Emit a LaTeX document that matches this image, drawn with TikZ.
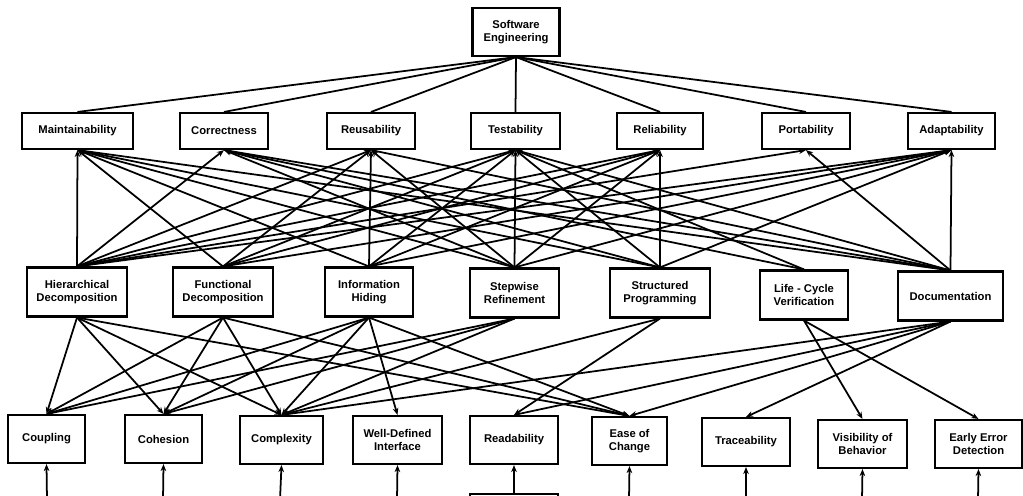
\documentclass[tikz,border=0pt]{standalone}
\usepackage{fontspec}
\setmainfont{Liberation Sans}
\usetikzlibrary{arrows.meta}
\begin{document}
\begin{tikzpicture}[x=0.25mm, y=-0.25mm,
        box/.style={draw, line width=1.5pt, align=center, inner sep=1pt,
            font=\fontsize{8}{9.5}\selectfont\bfseries},
        goal/.style={box, minimum height=9mm},
        principle/.style={box, minimum height=12.25mm},
        attribute/.style={box, minimum height=12mm},
        link/.style={line width=1.25pt, -{Stealth[length=5pt, width=4pt]}},
        tie/.style={line width=1.25pt}]
    \useasboundingbox (0, 0) rectangle (1023, 496);
    \clip (0, 0) rectangle (1023, 496);
    \node[box, minimum width=21.75mm, minimum height=12mm] (se) at (516, 32) {Software\\Engineering};

    \node[goal, minimum width=27.75mm] (main) at (77.5, 131) {Maintainability};
    \node[goal, minimum width=22mm] (corr) at (224, 131) {Correctness};
    \node[goal, minimum width=22mm] (reuse) at (371, 131) {Reusability};
    \node[goal, minimum width=22.25mm] (test) at (515.5, 131) {Testability};
    \node[goal, minimum width=21.5mm] (rel) at (660, 131) {Reliability};
    \node[goal, minimum width=22mm] (port) at (806, 131) {Portability};
    \node[goal, minimum width=21.75mm] (adapt) at (951.5, 131) {Adaptability};

    \node[principle, minimum width=25mm] (hier) at (77, 292) {Hierarchical\\Decomposition};
    \node[principle, minimum width=25mm] (func) at (223, 292) {Functional\\Decomposition};
    \node[principle, minimum width=22mm] (hide) at (369, 292) {Information\\Hiding};
    \node[principle, minimum width=22.25mm] (stepref) at (514.5, 293) {Stepwise\\Refinement};
    \node[principle, minimum width=25mm] (struct) at (660, 293) {Structured\\Programming};
    \node[principle, minimum width=22mm] (lcv) at (804, 295) {Life - Cycle\\Verification};
    \node[principle, minimum width=26.25mm] (docu) at (950.5, 296) {Documentation};

    \node[attribute, minimum width=19.25mm] (coup) at (46.5, 439) {Coupling};
    \node[attribute, minimum width=19.25mm] (cohe) at (163.5, 439) {Cohesion};
    \node[attribute, minimum width=20.75mm] (cplx) at (281.5, 440) {Complexity};
    \node[attribute, minimum width=22.25mm] (wdi) at (397.5, 440) {Well-Defined\\Interface};
    \node[attribute, minimum width=22mm] (read) at (514, 440) {Readability};
    \node[attribute, minimum width=18.75mm] (ease) at (629.5, 441) {Ease of\\Change};
    \node[attribute, minimum width=22mm] (trace) at (746, 442) {Traceability};
    \node[attribute, minimum width=22.25mm] (vis) at (862.5, 444) {Visibility of\\Behavior};
    \node[attribute, minimum width=21.75mm] (early) at (978.5, 444) {Early Error\\Detection};
    \node[attribute, minimum width=22mm] (below) at (514, 518) {};

    \foreach \g in {main, corr, reuse, test, rel, port, adapt}
        \draw[tie] (se.south) -- (\g.north);

    \foreach \p/\g in {hier/main, hier/corr, hier/reuse, hier/test, hier/rel, hier/port, hier/adapt,
            func/main, func/reuse, func/test, func/rel, func/adapt,
            hide/main, hide/reuse, hide/test, hide/rel, hide/adapt,
            stepref/main, stepref/corr, stepref/reuse, stepref/test, stepref/rel, stepref/adapt,
            struct/main, struct/corr, struct/test, struct/rel, struct/adapt,
            lcv/corr, lcv/test,
            docu/main, docu/corr, docu/reuse, docu/test, docu/port, docu/adapt}
        \draw[link] (\p.north) -- (\g.south);

    \foreach \p/\a in {hier/coup, hier/cohe, hier/cplx, hier/ease,
            func/coup, func/cohe, func/cplx, func/ease,
            hide/coup, hide/cohe, hide/cplx, hide/wdi, hide/ease,
            stepref/coup, stepref/cohe, stepref/cplx,
            struct/cplx, struct/read,
            lcv/vis, lcv/early,
            docu/cplx, docu/read, docu/ease, docu/trace}
        \draw[link] (\p.south) -- (\a.north);

    \foreach \a/\x in {coup/47, cohe/163, cplx/280, wdi/397, ease/629, trace/746, vis/862, early/978} {
        \coordinate (in-\a) at (\x, 500);
        \draw[link] (in-\a) -- (\a.south);
    }
    \draw[link] (below.north) -- (read.south);
\end{tikzpicture}
\end{document}
